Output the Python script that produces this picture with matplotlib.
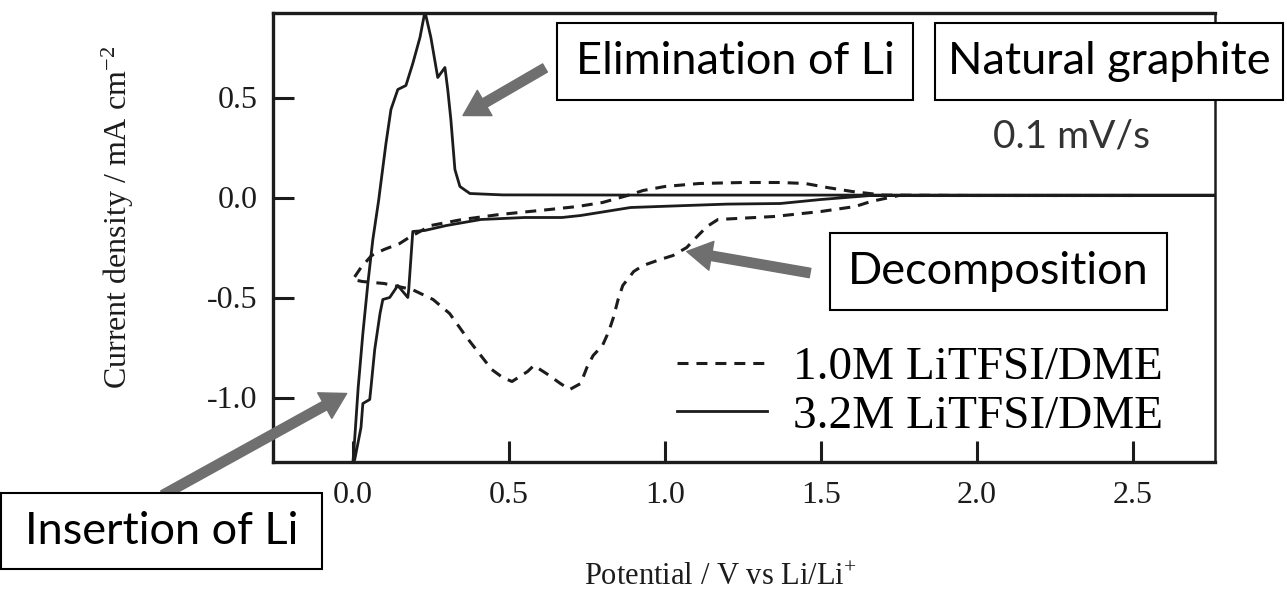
import matplotlib
matplotlib.use("Agg")
import matplotlib.pyplot as plt
from matplotlib.lines import Line2D
from matplotlib.patches import Rectangle

W, H = 1287, 595

# 1.0M LiTFSI/DME (dashed): reduction sweep from 2.5 V down to 0 V, then back up
v_10M = [2.5, 2.0, 1.75, 1.66, 1.61, 1.5, 1.35, 1.17, 1.135, 1.10, 1.07, 1.026,
         0.985, 0.93, 0.90, 0.865, 0.85, 0.835, 0.82, 0.80, 0.77, 0.75, 0.73,
         0.695, 0.665, 0.62, 0.58, 0.56, 0.51, 0.48, 0.445, 0.42, 0.365, 0.31,
         0.257, 0.19, 0.10, 0.03, 0.0,
         0.026, 0.06, 0.10, 0.15, 0.18, 0.25, 0.35, 0.47, 0.63, 0.72, 0.80,
         0.88, 0.93, 1.0, 1.11, 1.25, 1.37, 1.45, 1.52, 1.6, 1.7, 2.0, 2.5]
i_10M = [0.01, 0.01, 0.01, -0.02, -0.045, -0.07, -0.095, -0.11, -0.145, -0.20,
         -0.25, -0.29, -0.31, -0.34, -0.37, -0.44, -0.51, -0.60, -0.67, -0.74,
         -0.79, -0.85, -0.93, -0.96, -0.93, -0.88, -0.84, -0.87, -0.92, -0.90,
         -0.86, -0.81, -0.70, -0.58, -0.51, -0.46, -0.43, -0.42, -0.41,
         -0.35, -0.29, -0.26, -0.23, -0.20, -0.14, -0.11, -0.085, -0.06, -0.045,
         -0.025, 0.01, 0.035, 0.055, 0.07, 0.075, 0.075, 0.07, 0.05, 0.03,
         0.012, 0.01, 0.01]

# 3.2M LiTFSI/DME (solid)
v_32M = [2.76, 2.5, 2.0, 1.66, 1.5, 1.37, 1.2, 1.07, 0.89, 0.73, 0.67, 0.55,
         0.41, 0.30, 0.23, 0.192, 0.179, 0.176, 0.144, 0.118, 0.096, 0.087,
         0.07, 0.058, 0.054, 0.032, 0.026, 0.006, 0.0,
         0.007, 0.017, 0.032, 0.048, 0.064, 0.083, 0.087, 0.106, 0.122, 0.144,
         0.170, 0.192, 0.215, 0.231, 0.25, 0.272, 0.295, 0.304, 0.314, 0.327,
         0.343, 0.375, 0.48, 1.0, 2.0, 2.76]
i_32M = [0.01, 0.01, 0.01, 0.01, -0.01, -0.03, -0.033, -0.04, -0.05, -0.09,
         -0.10, -0.10, -0.11, -0.14, -0.165, -0.17, -0.46, -0.50, -0.44, -0.50,
         -0.51, -0.58, -0.76, -0.95, -1.01, -1.03, -1.15, -1.31, -1.33,
         -1.18, -0.95, -0.68, -0.43, -0.21, -0.01, 0.04, 0.27, 0.44, 0.54,
         0.56, 0.67, 0.80, 0.93, 0.80, 0.60, 0.65, 0.54, 0.39, 0.14,
         0.055, 0.02, 0.013, 0.012, 0.012, 0.012]

x_ticks = [0.0, 0.5, 1.0, 1.5, 2.0, 2.5]
y_ticks = [-1.0, -0.5, 0.0, 0.5]

serif = "Liberation Serif"
sans = "Lato"
ink = "#1c1c1c"
arrow_grey = "#6f6f6f"

plt.rcParams["mathtext.fontset"] = "custom"
plt.rcParams["mathtext.rm"] = serif
plt.rcParams["mathtext.it"] = serif


def px_box(x0, y0, x1, y1):
    # pixel box (origin top-left) -> figure fraction rectangle
    return x0 / W, 1 - y1 / H, (x1 - x0) / W, (y1 - y0) / H


def px(x, y):
    return x / W, 1 - y / H


fig = plt.figure(figsize=(W / 100, H / 100), dpi=100)
ax = fig.add_axes(px_box(273, 13, 1215, 462))

ax.plot(v_10M, i_10M, color=ink, lw=2.2, linestyle=(0, (3.6, 2.6)))
ax.plot(v_32M, i_32M, color=ink, lw=2.0)

ax.set_xlim(-0.256, 2.763)
ax.set_ylim(-1.3225, 0.9225)
ax.set_xticks(x_ticks)
ax.set_yticks(y_ticks)
ax.set_xticklabels([f"{t:.1f}" for t in x_ticks])
ax.set_yticklabels([f"{t:.1f}" for t in y_ticks])
ax.tick_params(direction="in", length=15, width=2.2, colors=ink,
               labelsize=23, top=False, right=False)
ax.tick_params(axis="x", pad=14)
ax.tick_params(axis="y", pad=11)
for lab in ax.get_xticklabels() + ax.get_yticklabels():
    lab.set_fontfamily(serif)
for side, lw in [("left", 2.4), ("bottom", 2.4), ("top", 2.4), ("right", 1.8)]:
    ax.spines[side].set_linewidth(lw)
    ax.spines[side].set_color(ink)

ax.set_xlabel("Potential / V vs Li/Li$^{+}$", fontfamily=serif, fontsize=22,
              color=ink)
ax.xaxis.set_label_coords(0.475, -0.225)
ax.set_ylabel("Current density / mA cm$^{-2}$", fontfamily=serif, fontsize=23,
              color=ink, va="center")
ax.yaxis.set_label_coords(-0.165, 0.545)

handles = [Line2D([], [], color=ink, lw=2.2, linestyle=(0, (3.6, 2.6))),
           Line2D([], [], color=ink, lw=2.0)]
ax.legend(handles, ["1.0M LiTFSI/DME", "3.2M LiTFSI/DME"], frameon=False,
          loc="lower right", bbox_to_anchor=(0.945, 0.054),
          prop={"family": serif, "size": 34}, handlelength=1.9,
          handletextpad=0.55, labelspacing=0.12, borderpad=0,
          borderaxespad=0)

ax.text(0.848, 0.724, "0.1 mV/s", transform=ax.transAxes, fontfamily=sans,
        fontsize=28, color="#333333", ha="center", va="center")

# grey arrows pointing at the features
arrow_kw = dict(arrowstyle="simple,head_length=0.9,head_width=1.05,tail_width=0.34",
                fc=arrow_grey, ec=arrow_grey, shrinkA=0, shrinkB=0,
                mutation_scale=20)
ax.annotate("", xy=(0.353, 0.41), xycoords="data",
            xytext=px(545, 68), textcoords="figure fraction", arrowprops=arrow_kw)
ax.annotate("", xy=(1.07, -0.27), xycoords="data",
            xytext=px(810, 273), textcoords="figure fraction", arrowprops=arrow_kw)
ax.annotate("", xy=(-0.02, -0.98), xycoords="data",
            xytext=px(163, 495), textcoords="figure fraction", arrowprops=arrow_kw)

# labelled white boxes
boxes = [((557, 23, 913, 100), "Elimination of Li"),
         ((935, 23, 1283, 100), "Natural graphite"),
         ((830, 233, 1167, 310), "Decomposition"),
         ((1, 493, 322, 569), "Insertion of Li")]
for (x0, y0, x1, y1), label in boxes:
    x, y, w, h = px_box(x0, y0, x1, y1)
    fig.add_artist(Rectangle((x, y), w, h, transform=fig.transFigure,
                             facecolor="white", edgecolor="black", lw=1.5,
                             zorder=5))
    cx, cy = px((x0 + x1) / 2, (y0 + y1) / 2)
    fig.text(cx, cy, label, fontfamily=sans, fontsize=32.5, color="black",
             ha="center", va="center", zorder=6)

fig.savefig("out.png", dpi=100)
